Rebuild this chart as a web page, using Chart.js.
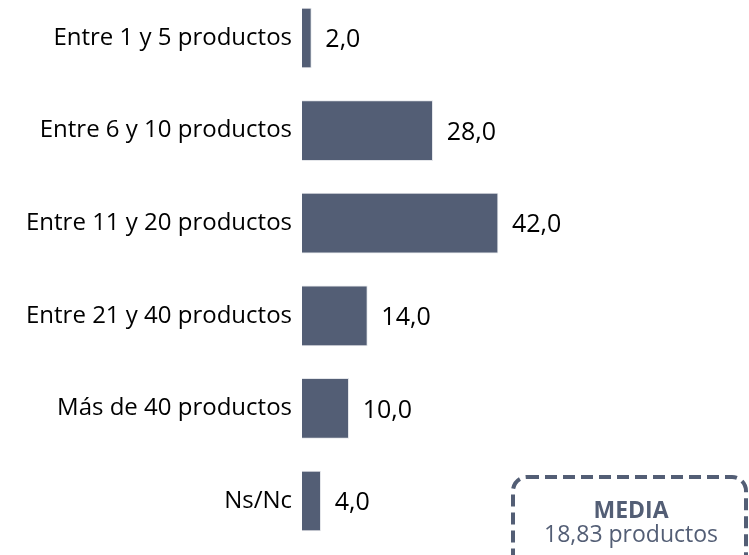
<!DOCTYPE html>
<html>
<head>
<meta charset="utf-8">
<script src="https://cdn.jsdelivr.net/npm/chart.js@4.4.0/dist/chart.umd.min.js"></script>
<style>
  html, body { margin: 0; padding: 0; background: #fff; }
  #wrap { width: 749px; height: 555px; position: relative; }
</style>
</head>
<body>
<div id="wrap"><canvas id="chart"></canvas></div>
<script>
const categories = [
  'Entre 1 y 5 productos',
  'Entre 6 y 10 productos',
  'Entre 11 y 20 productos',
  'Entre 21 y 40 productos',
  'Más de 40 productos',
  'Ns/Nc'
];
const values = [2.0, 28.0, 42.0, 14.0, 10.0, 4.0];
const mediaTitle = 'MEDIA';
const mediaText = '18,83 productos';

const barColor = '#535e75';
const fontFamily = "'Open Sans', 'Noto Sans', sans-serif";

// value labels next to each bar + the MEDIA box
const labelsPlugin = {
  id: 'labels',
  afterDatasetsDraw(chart) {
    const ctx = chart.ctx;
    const meta = chart.getDatasetMeta(0);
    ctx.save();
    ctx.font = '25px ' + fontFamily;
    ctx.fillStyle = '#000';
    ctx.textAlign = 'left';
    ctx.textBaseline = 'middle';
    meta.data.forEach((bar, i) => {
      ctx.fillText(values[i].toFixed(1).replace('.', ','), bar.x + 14, bar.y + 2);
    });
    ctx.restore();
  },
  afterDraw(chart) {
    const ctx = chart.ctx;
    ctx.save();
    ctx.strokeStyle = barColor;
    ctx.lineWidth = 4;
    ctx.setLineDash([12, 6]);
    ctx.beginPath();
    ctx.roundRect(513, 477, 233, 95, 14);
    ctx.stroke();
    ctx.setLineDash([]);
    ctx.fillStyle = barColor;
    ctx.textAlign = 'center';
    ctx.textBaseline = 'middle';
    ctx.font = 'bold 23px ' + fontFamily;
    ctx.fillText(mediaTitle, 631, 511);
    ctx.font = '23px ' + fontFamily;
    ctx.fillText(mediaText, 631, 535);
    ctx.restore();
  }
};

new Chart(document.getElementById('chart'), {
  type: 'bar',
  data: {
    labels: categories,
    datasets: [{
      data: values,
      backgroundColor: barColor,
      borderColor: '#e4e6ea',
      borderWidth: 1,
      barThickness: 60,
      clip: false
    }]
  },
  options: {
    indexAxis: 'y',
    responsive: true,
    maintainAspectRatio: false,
    animation: false,
    layout: { padding: { top: 38, bottom: 54, left: 0, right: 27 } },
    plugins: { legend: { display: false }, tooltip: { enabled: false } },
    scales: {
      x: {
        min: 0,
        max: 90,
        display: false
      },
      y: {
        offset: false,
        grid: { display: false, drawTicks: false },
        border: { display: false },
        afterFit(scale) { scale.width = 302; },
        ticks: {
          color: '#000',
          padding: 10,
          font: { family: fontFamily, size: 24 }
        }
      }
    }
  },
  plugins: [labelsPlugin]
});
</script>
</body>
</html>
